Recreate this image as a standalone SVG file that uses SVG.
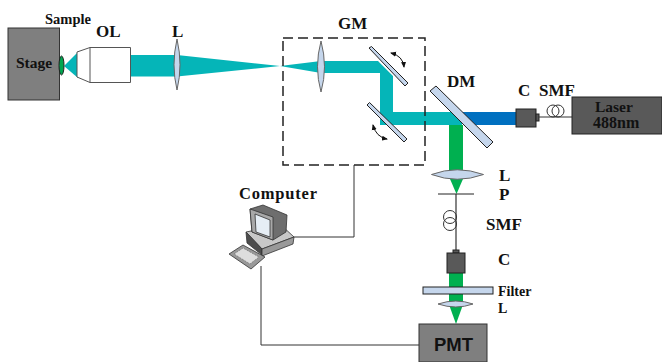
<svg xmlns="http://www.w3.org/2000/svg" width="662" height="362" viewBox="0 0 662 362">
<style>
text{font-family:"Liberation Serif",serif;font-weight:bold;fill:#111}
.box{fill:#7f7f7f;stroke:#333;stroke-width:1}
.dark{fill:#595959;stroke:#222;stroke-width:1}
.optic{fill:#c5d6ec;stroke:#666;stroke-width:1}
.mirror{fill:#c5d6ec;stroke:#222;stroke-width:1}
.wire{fill:none;stroke:#333;stroke-width:1}
.teal{fill:#05b5b8}
.green{fill:#00b050}
.arc{fill:none;stroke:#111;stroke-width:1;marker-start:url(#b);marker-end:url(#a)}
.pc{stroke:#333;stroke-width:.8}
</style>
<defs>
<marker id="a" markerWidth="6" markerHeight="6" refX="5" refY="3" orient="auto" markerUnits="userSpaceOnUse"><path d="M0 0.500L6 3L0 5.500z" fill="#111"/></marker>
<marker id="b" markerWidth="6" markerHeight="6" refX="1" refY="3" orient="auto" markerUnits="userSpaceOnUse"><path d="M6 0.500L0 3L6 5.500z" fill="#111"/></marker>
</defs>
<g id="beams">
<path class="teal" d="M64 66L78 52V78z"/>
<path class="teal" d="M130 55H177L280 66L177 76.500H130z"/>
<path class="teal" d="M280 66L321 61V73z"/>
<path class="teal" d="M321 61H378L393 76V112H462V125H380V73H321z"/>
<path d="M458 112H516V125H470z" fill="#0070c0"/>
<rect class="green" x="449" y="125" width="14" height="46"/>
<path class="green" d="M450 179H463L456.500 194z"/>
<rect class="green" x="449" y="272" width="14" height="16"/>
<rect class="green" x="449" y="293" width="14" height="10"/>
<path class="green" d="M449.500 306H462.500L456 324z"/>
</g>
<g id="connectors">
<path class="wire" d="M294 237H354V165"/>
<path class="wire" d="M261 266V345H419"/>
</g>
<g id="stage"><rect class="box" x="8" y="28" width="51.500" height="72"/><text x="16" y="68" font-size="15.500">Stage</text></g>
<g id="sample"><ellipse cx="61.500" cy="65.500" rx="2.500" ry="9.500" fill="#00a550" stroke="#222"/><text x="45" y="24" font-size="14.500">Sample</text></g>
<g id="ol"><path d="M77 52L90 47.500H130.500V82.500H90L77 77z" fill="#fff" stroke="#555"/><path d="M90 47.500V82.500" stroke="#555"/><text x="96" y="37" font-size="17">OL</text></g>
<g id="lens1"><path class="optic" d="M177 39Q183 65 177 90Q171 65 177 39z"/><text x="172" y="37" font-size="17">L</text></g>
<g id="gm"><rect x="283" y="38" width="142" height="127" fill="none" stroke="#222" stroke-width="1.500" stroke-dasharray="10 5"/><text x="338" y="29" font-size="17">GM</text></g>
<g id="lens2"><path class="optic" d="M321 41Q328 67 321 92Q314 67 321 41z"/></g>
<g id="mirror1"><path class="mirror" d="M369 48L371.500 46.500L408 83L405 86z"/><path class="arc" d="M391 53Q403 56 404 67"/></g>
<g id="mirror2"><path class="mirror" d="M367 105L369.500 102.500L407 139L404 142z"/><path class="arc" d="M373 125Q376 137 387 139"/></g>
<g id="dm"><path class="mirror" d="M430 91L436 86L493 142L487 148z"/><text x="447" y="87" font-size="17">DM</text></g>
<g id="collimator1"><rect class="dark" x="516" y="109" width="20" height="18"/><rect class="dark" x="536" y="114" width="3" height="7"/><text x="518" y="96" font-size="17">C</text></g>
<g id="fiber1"><path class="wire" d="M539 117H572"/><circle class="wire" cx="553" cy="111" r="6"/><circle class="wire" cx="558" cy="111" r="6"/><text x="539" y="96" font-size="17">SMF</text></g>
<g id="laser"><rect class="dark" x="572" y="97" width="90" height="37"/><text x="595" y="112" font-size="15.500">Laser</text><text x="593" y="128" font-size="16">488nm</text></g>
<g id="lens3"><path class="optic" d="M431.500 174.500Q457 165 483.500 174.500Q457 184 431.500 174.500z"/><text x="499" y="181" font-size="17">L</text></g>
<g id="pinhole"><path d="M438 194H474" stroke="#222" stroke-width="1" fill="none"/><text x="499" y="200" font-size="17">P</text></g>
<g id="fiber2"><path class="wire" d="M456 194V250" style="stroke-width:1.200"/><circle class="wire" cx="450" cy="217" r="6.500"/><circle class="wire" cx="450" cy="224" r="6.500"/><text x="486" y="230" font-size="17">SMF</text></g>
<g id="collimator2"><rect class="dark" x="453" y="250" width="6" height="3"/><rect class="dark" x="447" y="253" width="18" height="20"/><text x="498" y="265" font-size="17">C</text></g>
<g id="filter"><rect class="mirror" x="423" y="287" width="70" height="7"/><text x="498" y="296" font-size="14">Filter</text></g>
<g id="lens4"><path class="optic" d="M438 304Q456 298 473 304Q456 310 438 304z"/><text x="498" y="313" font-size="14">L</text></g>
<g id="pmt"><rect class="box" x="419" y="324" width="68" height="38"/><text x="434" y="351" font-size="18.500" style="font-family:'Liberation Sans',sans-serif">PMT</text></g>
<g id="computer">
<path class="pc" d="M246 232L281 225L294 237L262 249z" fill="#c8c8c8"/>
<path class="pc" d="M246 232L262 249V255L247 243z" fill="#4d4d4d"/>
<path class="pc" d="M262 249L294 237L293 244L262 256z" fill="#999"/>
<path class="pc" d="M250 209L263 205L287 215L286 232L273 240L252 232z" fill="#6e6e6e"/>
<path class="pc" d="M250 209L273 217V240L252 232z" fill="#a8a8a8"/>
<path class="pc" d="M255 214L270 220V237L256 232z" fill="#e6eef5"/>
<path class="pc" d="M229 254L243 245L265 257L251 269z" fill="#999"/>
<path d="M234 254L243 248L259 257L250 264z" fill="#ddd" stroke="#666" stroke-width=".6" stroke-dasharray="2 1"/>
<text x="239" y="199" font-size="16.500" letter-spacing=".8">Computer</text>
</g>
</svg>
